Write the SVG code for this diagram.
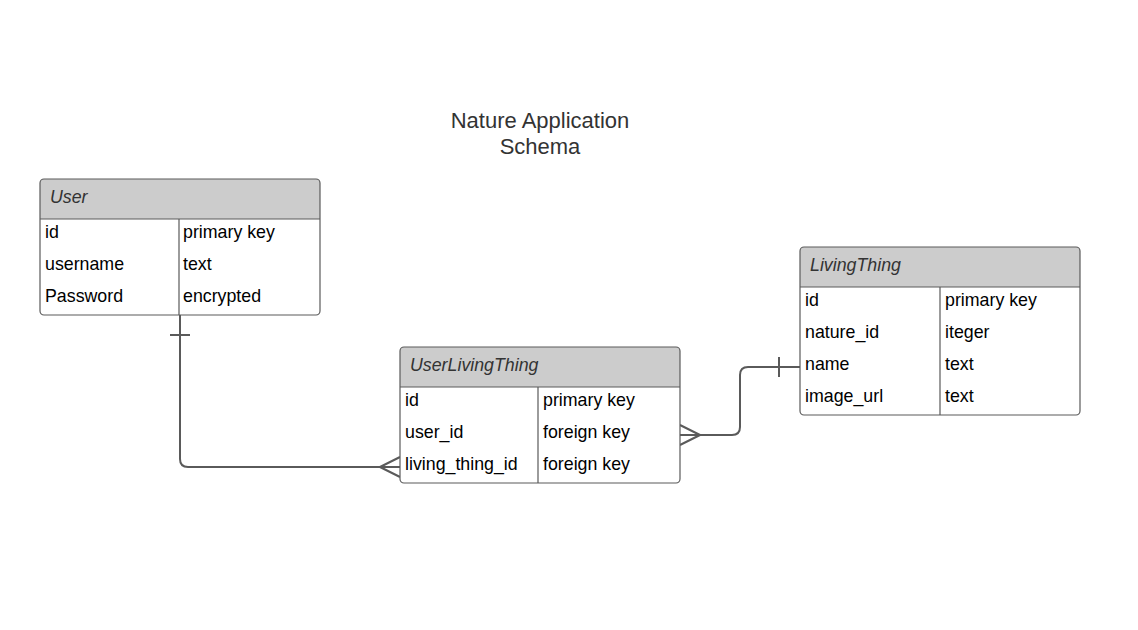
<svg xmlns="http://www.w3.org/2000/svg" width="1138" height="630" viewBox="0 0 1138 630">
<style>
.box{fill:#fff;stroke:#5a5a5a;stroke-width:1.2}
.hdr{fill:#cccccc;stroke:none}
.ln{stroke:#5a5a5a;stroke-width:1.2;fill:none}
.t{font-family:"Liberation Sans",Arial,sans-serif;font-size:17.8px;fill:#000}
.h{font-family:"Liberation Sans",Arial,sans-serif;font-size:17.8px;font-style:italic;fill:#333}
.title{font-family:"Liberation Sans",Arial,sans-serif;font-size:22px;fill:#333;text-anchor:middle}
.c{stroke:#5a5a5a;stroke-width:2;fill:none;stroke-linejoin:round}
</style>
<rect width="1138" height="630" fill="#fff"/>
<g id="title">
<text class="title" x="540" y="128">Nature Application</text>
<text class="title" x="540" y="154">Schema</text>
</g>
<g id="connectors">
<path class="c" d="M180,315 V459 Q180,467 188,467 H400"/>
<path class="c" d="M170,335 H190"/>
<path class="c" d="M400,457 L380,467 L400,477"/>
<path class="c" d="M680,435 H732 Q740,435 740,427 V375 Q740,367 748,367 H800"/>
<path class="c" d="M779,357 V377"/>
<path class="c" d="M680,425 L700,435 L680,445"/>
</g>
<g id="User">
<path class="hdr" d="M44,179 H316 Q320,179 320,183 V219 H40 V183 Q40,179 44,179 Z"/>
<rect class="box" x="40" y="179" width="280" height="136" rx="4" style="fill:none"/>
<path class="ln" d="M40,219 H320 M179,219 V315"/>
<text class="h" x="50" y="203">User</text>
<text class="t" x="45" y="238">id</text><text class="t" x="183" y="238">primary key</text>
<text class="t" x="45" y="270">username</text><text class="t" x="183" y="270">text</text>
<text class="t" x="45" y="302">Password</text><text class="t" x="183" y="302">encrypted</text>
</g>
<g id="UserLivingThing">
<rect x="400" y="347" width="280" height="136" rx="4" fill="#fff"/>
<path class="hdr" d="M404,347 H676 Q680,347 680,351 V387 H400 V351 Q400,347 404,347 Z"/>
<rect class="box" x="400" y="347" width="280" height="136" rx="4" style="fill:none"/>
<path class="ln" d="M400,387 H680 M538,387 V483"/>
<text class="h" x="410" y="371">UserLivingThing</text>
<text class="t" x="405" y="406">id</text><text class="t" x="543" y="406">primary key</text>
<text class="t" x="405" y="438">user_id</text><text class="t" x="543" y="438">foreign key</text>
<text class="t" x="405" y="470">living_thing_id</text><text class="t" x="543" y="470">foreign key</text>
</g>
<g id="LivingThing">
<rect x="800" y="247" width="280" height="168" rx="4" fill="#fff"/>
<path class="hdr" d="M804,247 H1076 Q1080,247 1080,251 V287 H800 V251 Q800,247 804,247 Z"/>
<rect class="box" x="800" y="247" width="280" height="168" rx="4" style="fill:none"/>
<path class="ln" d="M800,287 H1080 M940,287 V415"/>
<text class="h" x="810" y="271">LivingThing</text>
<text class="t" x="805" y="306">id</text><text class="t" x="945" y="306">primary key</text>
<text class="t" x="805" y="338">nature_id</text><text class="t" x="945" y="338">iteger</text>
<text class="t" x="805" y="370">name</text><text class="t" x="945" y="370">text</text>
<text class="t" x="805" y="402">image_url</text><text class="t" x="945" y="402">text</text>
</g>
</svg>
